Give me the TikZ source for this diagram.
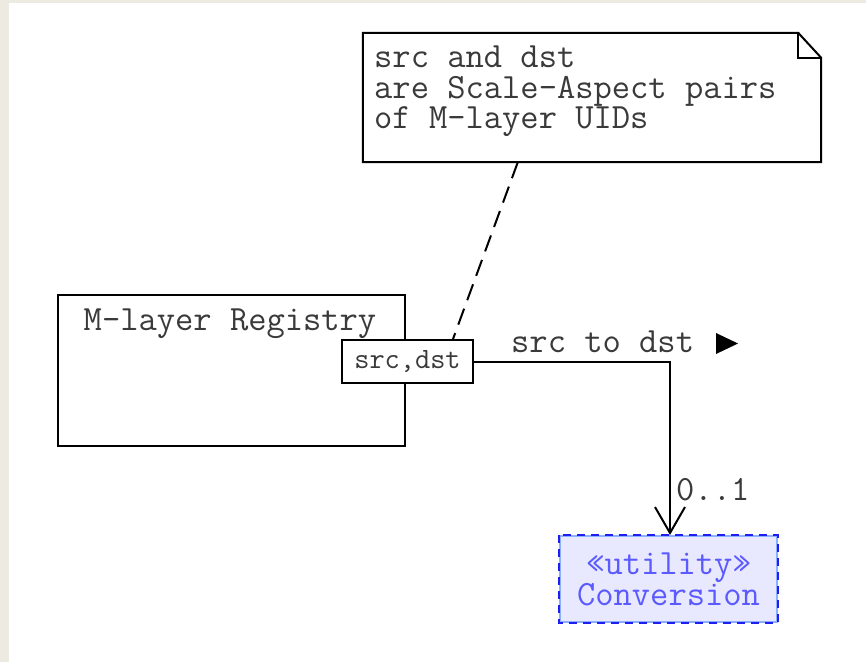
\documentclass[tikz,border=0pt]{standalone}
\usepackage{fontspec}
\usetikzlibrary{arrows.meta}
\definecolor{pagebg}{HTML}{EDEBE1}
\definecolor{txtgray}{HTML}{3A3A3A}
\definecolor{utilfill}{HTML}{E8E8FE}
\definecolor{utilline}{HTML}{8CB0FF}
\definecolor{utildash}{HTML}{1E1EF0}
\definecolor{utiltext}{HTML}{5A5AFF}
\tikzset{
  ln/.style={line width=2pt, black},
  monotxt/.style={font=\ttfamily\fontsize{35.5}{29.5}\selectfont, text=txtgray, inner sep=0pt},
  classbox/.style={ln, draw, fill=white, inner sep=0pt},
  portbox/.style={ln, draw, fill=white, inner sep=0pt,
    font=\ttfamily\fontsize{29.5}{26}\selectfont, text=txtgray},
  utilbox/.style={draw=utilline, line width=2pt, fill=utilfill, inner sep=0pt,
    font=\ttfamily\fontsize{35.5}{28.5}\selectfont, text=utiltext, align=center},
  notelink/.style={ln, dash pattern=on 17pt off 9pt},
  assoc/.style={ln, -{Straight Barb[length=26pt,width=30pt,line width=2pt]}}
}
\begin{document}
\begin{tikzpicture}[x=1pt,y=-1pt]
  % page
  \fill[pagebg] (0,0) rectangle (866,662);
  \fill[white] (9,3) rectangle (866,662);
  \useasboundingbox (0,0) rectangle (866,662);

  % note
  \node[minimum width=458pt, minimum height=129pt, inner sep=0pt] (note) at (592,97.5) {};
  \draw[ln, fill=white] (note.north west) -- ([xshift=-23pt]note.north east)
        -- ([yshift=-25pt]note.north east) -- (note.south east)
        -- (note.south west) -- cycle;
  \draw[ln] ([xshift=-23pt]note.north east) |- ([yshift=-25pt]note.north east);
  \node[monotxt, anchor=base west] (notetext) at (374,67)
    {\renewcommand\arraystretch{1}\begin{tabular}[t]{@{}l@{}}src and dst\\are Scale-Aspect pairs\\of M-layer UIDs\end{tabular}};

  % registry component with its port
  \node[classbox, minimum width=347pt, minimum height=151pt] (reg) at (231.5,370.5) {};
  \node[monotxt, anchor=base] (regtitle) at (230,330) {M-layer Registry};
  \node[portbox, minimum width=131pt, minimum height=43pt] (port) at (407.5,361.5) {src,dst};

  % utility class
  \node[utilbox, minimum width=217pt, minimum height=86pt] (conv) at (668.5,579)
    {\guillemotleft utility\guillemotright\\Conversion};
  \draw[utildash, line width=2pt, dash pattern=on 8pt off 6pt]
    (conv.north west) rectangle (conv.south east);

  % note anchor line
  \draw[notelink] ([xshift=155pt]note.south west) -- ([xshift=-21pt]port.north east);

  % association
  \coordinate (bend) at (670,361.5);
  \draw[assoc] (port.east) -- (bend) -- (bend |- conv.north);
  \node[monotxt, anchor=base west] (assoclbl) at (511,352) {src to dst};
  \fill[black] ([xshift=205pt,yshift=-2pt]assoclbl.base west) -- ++(22pt,10.5pt) -- ++(-22pt,10.5pt) -- cycle;
  \node[monotxt, anchor=base west] (mult) at (676,500) {0..1};
\end{tikzpicture}
\end{document}
